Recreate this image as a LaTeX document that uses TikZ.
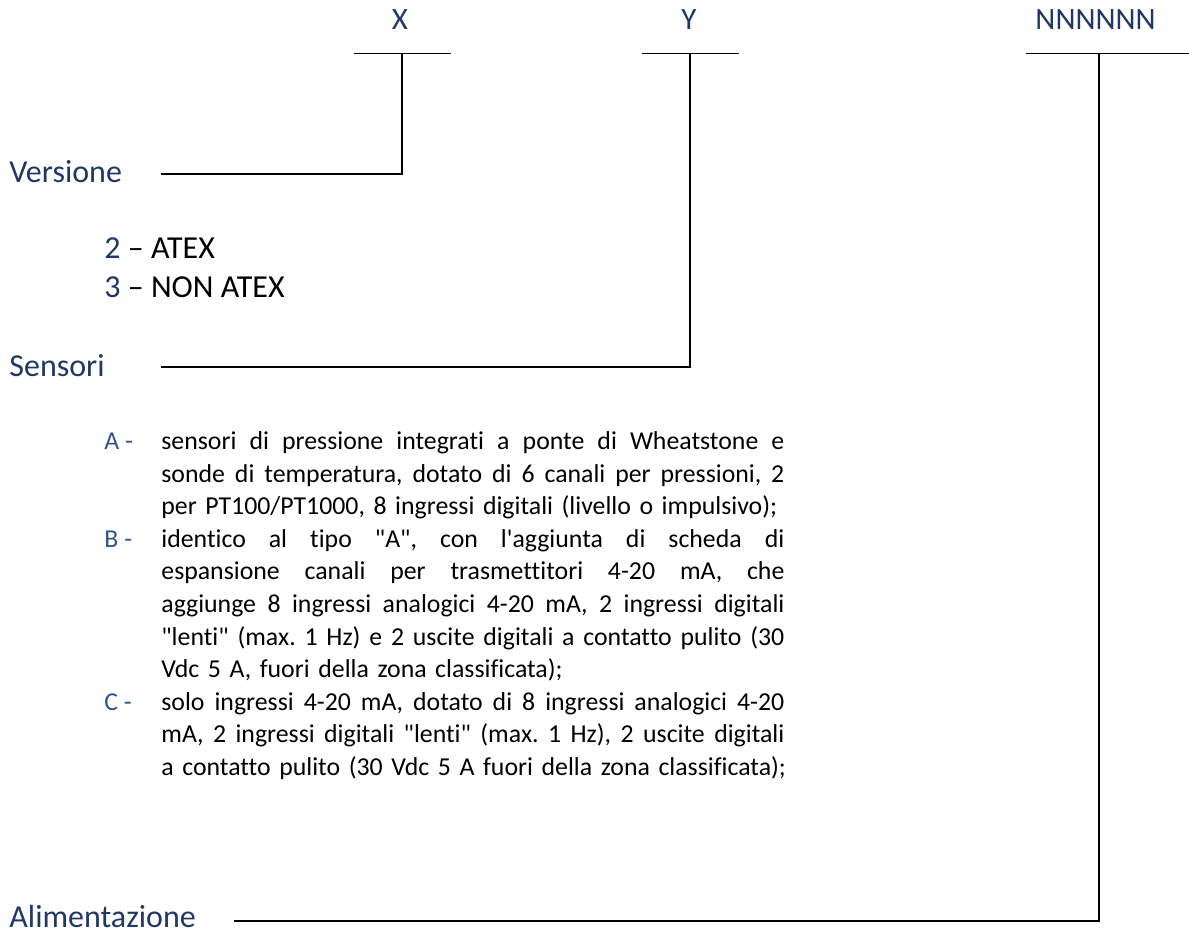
\documentclass[tikz,border=0pt]{standalone}
\usepackage{fontspec}
\setmainfont{Carlito}[Ligatures={NoCommon}]
\definecolor{hd}{RGB}{31,56,100}
\definecolor{lt}{RGB}{47,84,140}
\begin{document}
\frenchspacing
\begin{tikzpicture}[x=0.5pt,y=-0.5pt,
  head/.style={font=\fontsize{16}{19.5}\selectfont, text=hd, inner sep=0pt, anchor=base west},
  code/.style={font=\fontsize{15.5}{19}\selectfont, text=hd, inner sep=0pt, anchor=base},
  opt/.style={font=\fontsize{16}{19.5}\selectfont, inner sep=0pt, anchor=base west},
  itemlab/.style={font=\fontsize{12.9}{16.3}\selectfont, text=lt, inner sep=0pt, anchor=base west},
  body/.style={font=\fontsize{12.9}{16.3}\selectfont, inner sep=0pt, anchor=base west, text width=340pt, align=left},
  conn/.style={line width=0.8pt, black}]
\useasboundingbox (0,0) rectangle (1189,933);
\def\J#1{\hbox to 311.5pt{\spaceskip=\fontdimen2\font plus 1fil\relax #1}}
\def\N#1{\hbox{#1}}
\def\q{\textquotedbl}
% code letters
\node[code] (cx) at (400,29) {X};
\node[code] (cy) at (689,29) {Y};
\node[code] (cn) at (1095.5,29) {NNNNNN};
% bars
\coordinate (xl) at (354,53.5); \coordinate (xr) at (451,53.5); \coordinate (xm) at (402,53.5);
\coordinate (yl) at (642,53.5); \coordinate (yr) at (739,53.5); \coordinate (ym) at (690,53.5);
\coordinate (nl) at (1026,53.5); \coordinate (nr) at (1189,53.5); \coordinate (nm) at (1099,53.5);
\draw[conn] (xl) -- (xr);
\draw[conn] (yl) -- (yr);
\draw[conn] (nl) -- (nr);
% headings
\node[head] (vers) at (9,182) {Versione};
\node[head] (sens) at (9,376) {Sensori};
\node[head] (alim) at (9,927) {Alimentazione};
\coordinate (vs) at (161,174);
\coordinate (ss) at (161,367);
\coordinate (as) at (234,921);
\draw[conn] (vs) -| (xm);
\draw[conn] (ss) -| (ym);
\draw[conn] (as) -| (nm);
% options
\node[opt] (o2) at (104,258) {\textcolor{hd}{2} – ATEX};
\node[opt] (o3) at (104,297) {\textcolor{hd}{3} – NON ATEX};
% sensor items
\node[itemlab] (la) at (104,449.5) {A -};
\node[itemlab] (lb) at (104,547.3) {B -};
\node[itemlab] (lc) at (104,710.3) {C -};
\node[body] (ta) at (161,449.5) {\J{sensori di pressione integrati a ponte di Wheatstone e}
\J{sonde di temperatura, dotato di 6 canali per pressioni, 2}
\N{per PT100/PT1000, 8 ingressi digitali (livello o impulsivo);}};
\node[body] (tb) at (161,547.3) {\J{identico al tipo \q A\q, con l\textquotesingle aggiunta di scheda di}
\J{espansione canali per trasmettitori 4-20 mA, che}
\J{aggiunge 8 ingressi analogici 4-20 mA, 2 ingressi digitali}
\J{\q lenti\q\ (max. 1 Hz) e 2 uscite digitali a contatto pulito (30}
\N{Vdc 5 A, fuori della zona classificata);}};
\node[body] (tc) at (161,710.3) {\J{solo ingressi 4-20 mA, dotato di 8 ingressi analogici 4-20}
\J{mA, 2 ingressi digitali \q lenti\q\ (max. 1 Hz), 2 uscite digitali}
\N{a contatto pulito (30 Vdc 5 A fuori della zona classificata);}};
\end{tikzpicture}
\end{document}
